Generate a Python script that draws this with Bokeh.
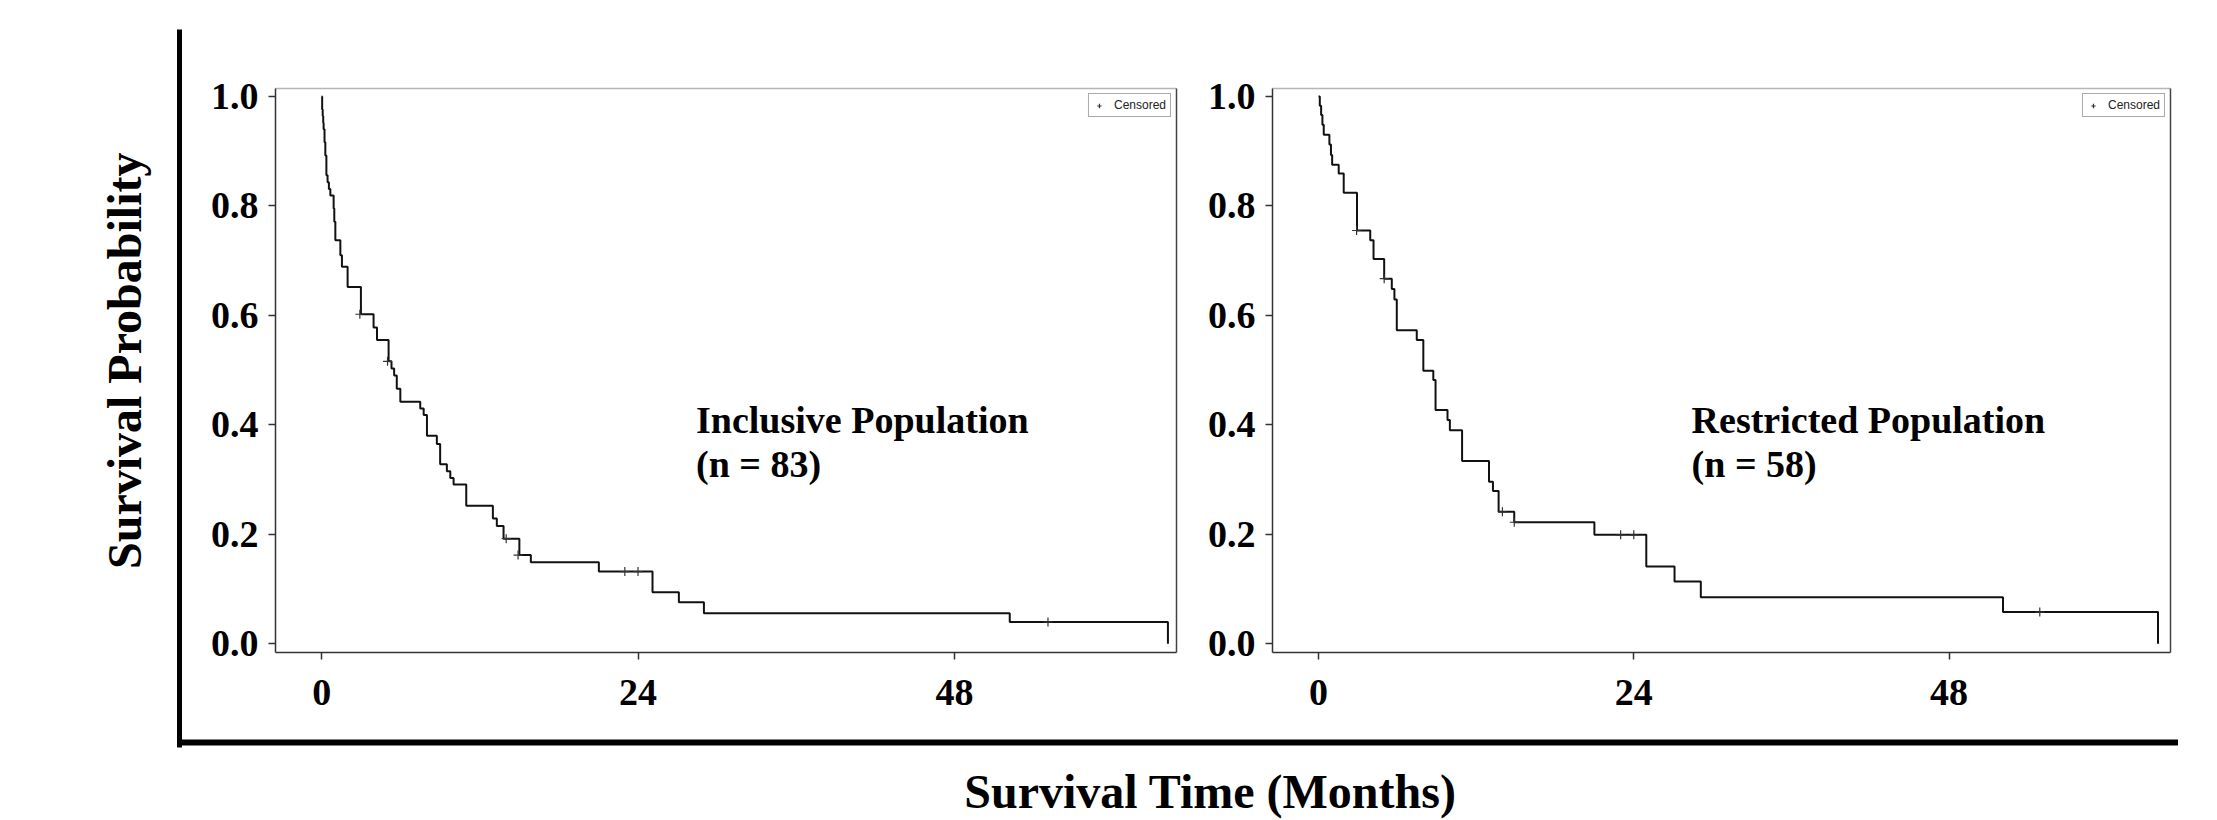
from bokeh.plotting import figure
from bokeh.models import Range1d, FixedTicker, LinearAxis, Label, Title, NumeralTickFormatter
from bokeh.layouts import row, column
from bokeh.embed import file_html
from bokeh.resources import INLINE

# ---------------- data ----------------
x_ticks = [0, 24, 48]
x_tick_labels = ["0", "24", "48"]
y_ticks = [0.0, 0.2, 0.4, 0.6, 0.8, 1.0]
y_tick_labels = ["0.0", "0.2", "0.4", "0.6", "0.8", "1.0"]

# Inclusive population (n = 83): step times (months) and survival after each step
incl_time = [0, 0.04, 0.08, 0.12, 0.15, 0.22, 0.28, 0.36, 0.45, 0.55, 0.66, 0.91, 0.96,
             1.04, 1.42, 1.54, 1.97, 2.98, 3.94, 4.2, 5.08, 5.3, 5.5, 5.7, 5.97, 7.48,
             7.74, 7.99, 8.74, 8.99, 9.5, 9.76, 10.01, 10.97, 12.99, 13.29, 13.8, 15.0,
             15.87, 21.03, 25.1, 27.1, 29.0, 52.2, 64.2]
incl_surv = [1.0, 0.976, 0.964, 0.952, 0.94, 0.916, 0.892, 0.856, 0.843, 0.831, 0.819, 0.795, 0.771,
             0.737, 0.71, 0.689, 0.652, 0.602, 0.578, 0.555, 0.516, 0.503, 0.49, 0.466, 0.442, 0.43,
             0.418, 0.38, 0.365, 0.328, 0.315, 0.303, 0.291, 0.252, 0.229, 0.215, 0.192, 0.162,
             0.149, 0.132, 0.094, 0.076, 0.056, 0.04, 0.0]
incl_cens_time = [2.9, 5.0, 14.0, 14.9, 23.0, 24.0, 55.1]
incl_cens_surv = [0.602, 0.516, 0.192, 0.162, 0.132, 0.132, 0.04]

# Restricted population (n = 58)
restr_time = [0, 0.1, 0.2, 0.3, 0.4, 0.83, 0.95, 1.04, 1.54, 1.92, 2.93, 3.94, 4.19, 5.0,
              5.58, 5.78, 5.96, 7.48, 7.98, 8.74, 8.91, 9.82, 10.0, 10.93, 12.98, 13.28,
              13.71, 14.9, 21.0, 24.95, 27.1, 29.1, 52.1, 63.9]
restr_surv = [1.0, 0.983, 0.966, 0.948, 0.93, 0.912, 0.893, 0.875, 0.859, 0.824, 0.755, 0.737, 0.703, 0.667,
              0.648, 0.629, 0.573, 0.555, 0.499, 0.482, 0.427, 0.409, 0.39, 0.334, 0.296, 0.279,
              0.241, 0.222, 0.199, 0.141, 0.114, 0.085, 0.058, 0.0]
restr_cens_time = [2.9, 5.0, 14.0, 14.9, 23.0, 24.0, 54.9]
restr_cens_surv = [0.755, 0.667, 0.241, 0.222, 0.199, 0.199, 0.058]

panel_names = ["Inclusive Population", "Restricted Population"]
panel_counts = ["(n = 83)", "(n = 58)"]
y_title = "Survival Probability"
x_title = "Survival Time (Months)"
legend_text = "Censored"

SERIF = "Liberation Serif"
SANS = "Liberation Sans"


def blank_axis(ax, color, width):
    ax.ticker = FixedTicker(ticks=[])
    ax.axis_line_color = color
    ax.axis_line_width = width
    ax.major_tick_line_color = None
    ax.minor_tick_line_color = None
    ax.major_tick_out = 0
    ax.major_tick_in = 0
    ax.major_label_standoff = 0
    ax.major_label_text_font_size = "0px"


def make_panel(time, surv, ctime, csurv, name, count, width, bl, br):
    p = figure(width=width, height=720,
               x_range=Range1d(-3.5, 64.85), y_range=Range1d(-0.0159, 1.0144),
               output_backend="svg", toolbar_location=None,
               min_border_left=bl, min_border_right=br,
               min_border_top=88, min_border_bottom=68)
    p.grid.visible = False
    p.outline_line_color = None
    p.background_fill_color = "white"
    p.border_fill_color = "white"

    p.step(time, surv, mode="after", line_color="#111111", line_width=2)
    p.scatter(ctime, csurv, marker="cross", size=9, line_color="#333333",
              line_width=1.2, legend_label=legend_text)

    for ax in (p.xaxis[0], p.yaxis[0]):
        ax.axis_line_color = "#333333"
        ax.axis_line_width = 1.5
        ax.major_tick_line_color = "#333333"
        ax.major_tick_line_width = 1.5
        ax.major_tick_out = 7
        ax.major_tick_in = 0
        ax.minor_tick_line_color = None
        ax.major_label_text_font = SERIF
        ax.major_label_text_font_size = "38px"
        ax.major_label_text_font_style = "bold"
        ax.major_label_text_color = "black"
    p.xaxis.ticker = FixedTicker(ticks=x_ticks)
    p.xaxis.major_label_overrides = dict(zip(x_ticks, x_tick_labels))
    p.xaxis.major_label_standoff = 20
    p.yaxis.ticker = FixedTicker(ticks=y_ticks)
    p.yaxis.formatter = NumeralTickFormatter(format="0.0")
    p.yaxis.major_label_overrides = dict(zip(y_ticks, y_tick_labels))
    p.yaxis.major_label_standoff = 10

    top = LinearAxis()
    blank_axis(top, "#b5b5b5", 1.5)
    p.add_layout(top, "above")
    right = LinearAxis()
    blank_axis(right, "#444444", 1.5)
    p.add_layout(right, "right")

    lg = p.legend[0]
    lg.location = "top_right"
    lg.margin = 5
    lg.padding = 4
    lg.spacing = 0
    lg.glyph_width = 12
    lg.glyph_height = 11
    lg.label_height = 11
    lg.label_standoff = 9
    lg.label_text_font = SANS
    lg.label_text_font_size = "12px"
    lg.label_text_color = "#222222"
    lg.border_line_color = "#555555"
    lg.border_line_width = 1
    lg.background_fill_alpha = 1.0

    for txt, yv in ((name, 0.408), (count, 0.329)):
        p.add_layout(Label(x=28.4, y=yv, text=txt, text_font=SERIF,
                           text_font_size="38px", text_font_style="bold",
                           text_color="black", text_baseline="alphabetic"))
    return p


p1 = make_panel(incl_time, incl_surv, incl_cens_time, incl_cens_surv,
                panel_names[0], panel_counts[0], 1000, 93, 6)
p2 = make_panel(restr_time, restr_surv, restr_cens_time, restr_cens_surv,
                panel_names[1], panel_counts[1], 996, 90, 8)

# left strip: thick vertical rule + y title
a = figure(width=182, height=820, x_range=Range1d(0, 1), y_range=Range1d(0, 1),
           output_backend="svg", toolbar_location=None,
           x_axis_location=None, y_axis_location="left",
           min_border_left=179, min_border_right=2, min_border_top=29, min_border_bottom=73,
           title=Title(text=y_title, align="right", offset=123, text_font=SERIF,
                       text_font_size="48px", text_font_style="bold", text_color="black",
                       standoff=58),
           title_location="left")
a.grid.visible = False
a.outline_line_color = None
blank_axis(a.yaxis[0], "black", 5)


def rule_strip(width, label=None):
    f = figure(width=width, height=100, x_range=Range1d(0, 1), y_range=Range1d(0, 1),
               output_backend="svg", toolbar_location=None,
               x_axis_location="below", y_axis_location=None,
               min_border_left=0, min_border_right=0, min_border_top=0, min_border_bottom=75)
    f.grid.visible = False
    f.outline_line_color = None
    blank_axis(f.xaxis[0], "black", 6)
    f.xaxis.axis_line_cap = "square"
    if label:
        f.xaxis.axis_label = label
        f.xaxis.axis_label_standoff = 22
        f.xaxis.axis_label_text_font = SERIF
        f.xaxis.axis_label_text_font_size = "48px"
        f.xaxis.axis_label_text_font_style = "bold"
        f.xaxis.axis_label_text_color = "black"
    return f


# bottom strip: short rule piece + rule with centred x title
c = rule_strip(60)
b = rule_strip(1936, x_title)

layout = row(a, column(row(p1, p2), row(c, b)))

open("out.html", "w").write(file_html(layout, INLINE))
